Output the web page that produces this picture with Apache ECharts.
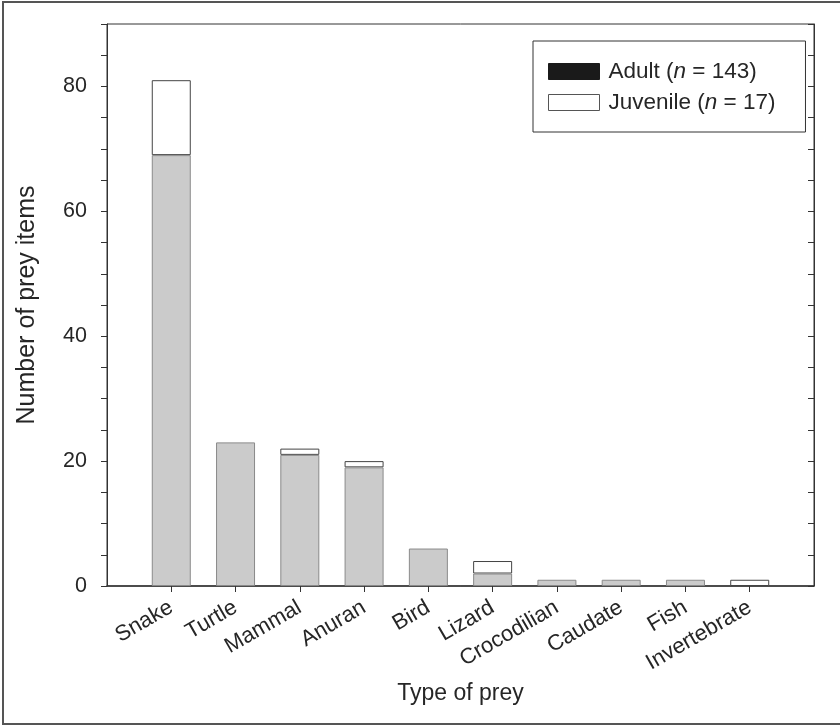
<!DOCTYPE html>
<html>
<head>
<meta charset="utf-8">
<script src="https://cdn.jsdelivr.net/npm/echarts@6/dist/echarts.min.js"></script>
<style>
html,body{margin:0;padding:0;background:#fff;}
#chart{width:840px;height:726px;}
</style>
</head>
<body>
<div id="chart"></div>
<script>
const categories = ['Snake','Turtle','Mammal','Anuran','Bird','Lizard','Crocodilian','Caudate','Fish','Invertebrate'];
const adultValues = [69, 23, 21, 19, 6, 2, 1, 1, 1, 0];
const juvenileValues = [12, 0, 1, 1, 0, 2, 0, 0, 0, 1];
const yTickLabels = [0, 20, 40, 60, 80];
const seriesNames = ['Adult', 'Juvenile'];
const seriesCounts = [143, 17];

const axisCats = [''].concat(categories, ['']);
// zero-height segments are left out so they do not draw an outline
const pad = arr => [null].concat(arr.map(v => v === 0 ? null : v), [null]);
const textColor = '#262626';
const font = 'Liberation Sans, Arial, sans-serif';

const chart = echarts.init(document.getElementById('chart'));
chart.setOption({
  animation: false,
  backgroundColor: '#fff',
  graphic: [{
    type: 'rect', shape: {x: 3, y: 2, width: 845, height: 722},
    style: {fill: 'none', stroke: '#555', lineWidth: 2}, silent: true
  }],
  grid: {left: 107, top: 24, right: 26, bottom: 140, show: true, borderColor: '#333', borderWidth: 1, backgroundColor: 'transparent'},
  legend: {
    orient: 'vertical', left: 533, top: 41, width: 230,
    padding: [19, 30, 18, 15],
    borderColor: '#333', borderWidth: 1, backgroundColor: '#fff',
    itemWidth: 51, itemHeight: 16, itemGap: 8,
    icon: 'rect',
    data: [
      {name: seriesNames[0], itemStyle: {color: '#1a1a1a', borderColor: '#1a1a1a', borderWidth: 1}},
      {name: seriesNames[1], itemStyle: {color: '#fff', borderColor: '#555', borderWidth: 1}}
    ],
    formatter: name => {
      const i = seriesNames.indexOf(name);
      return name + ' ({i|n} = ' + seriesCounts[i] + ')';
    },
    textStyle: {
      fontFamily: font, fontSize: 22.5, color: textColor, padding: [0, 0, 0, 4],
      rich: {i: {fontFamily: font, fontSize: 22.5, fontStyle: 'italic', color: textColor}}
    }
  },
  xAxis: {
    type: 'category', data: axisCats, boundaryGap: false,
    name: 'Type of prey', nameLocation: 'middle', nameGap: 96, nameMoveOverlap: false,
    nameTextStyle: {fontFamily: font, fontSize: 23, color: textColor},
    axisLine: {lineStyle: {color: '#333', width: 1.5}},
    axisTick: {length: 6, lineStyle: {color: '#333'}, interval: (i) => i > 0 && i < axisCats.length - 1},
    axisLabel: {rotate: 30, margin: 20, fontFamily: font, fontSize: 22, color: textColor, interval: 0},
    splitLine: {show: false}
  },
  yAxis: [{
    type: 'value', min: 0, max: 90, interval: 5,
    name: 'Number of prey items', nameLocation: 'middle', nameGap: 67, nameMoveOverlap: false,
    nameTextStyle: {fontFamily: font, fontSize: 25, color: textColor},
    axisLine: {show: true, lineStyle: {color: '#333', width: 1}},
    axisTick: {show: true, length: 6, lineStyle: {color: '#333'}},
    axisLabel: {margin: 20, fontFamily: font, fontSize: 21.5, color: textColor,
      formatter: v => yTickLabels.indexOf(v) >= 0 ? String(v) : ''},
    splitLine: {show: false}
  }, {
    type: 'value', min: 0, max: 90, interval: 5, position: 'right',
    axisLine: {show: true, lineStyle: {color: '#333'}},
    axisTick: {show: true, inside: true, length: 6, lineStyle: {color: '#333'}},
    axisLabel: {show: false},
    splitLine: {show: false}
  }],
  series: [{
    name: seriesNames[0], type: 'bar', stack: 'total', barWidth: 39, z: 3,
    data: pad(adultValues),
    itemStyle: {color: '#cbcbcb', borderColor: '#8a8a8a', borderWidth: 1}
  }, {
    name: seriesNames[1], type: 'bar', stack: 'total', barWidth: 39, z: 2,
    data: pad(juvenileValues),
    itemStyle: {color: '#fff', borderColor: '#444', borderWidth: 1}
  }]
});
</script>
</body>
</html>
